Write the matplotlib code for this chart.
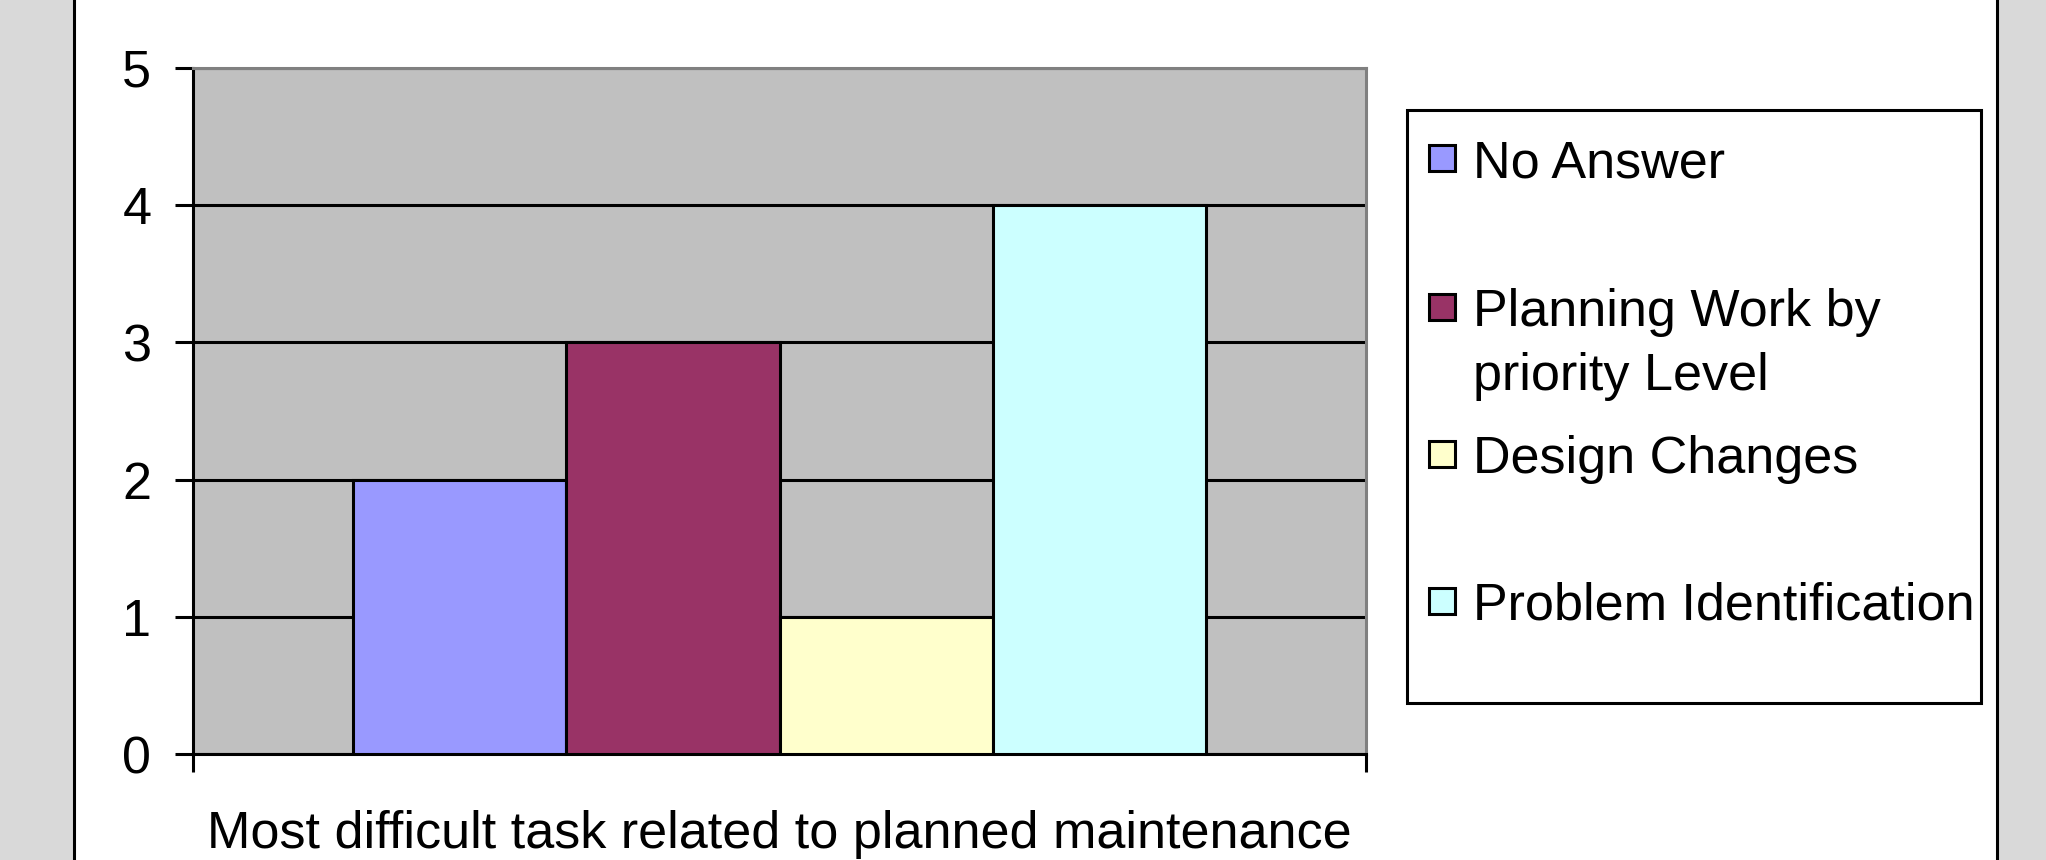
import matplotlib
matplotlib.use("Agg")
import matplotlib.pyplot as plt
from matplotlib.patches import Rectangle
from matplotlib.lines import Line2D

# data
categories = ['No Answer', 'Planning Work by\npriority Level', 'Design Changes', 'Problem Identification']
values = [2, 3, 1, 4]
colors = ['#9999ff', '#993366', '#ffffcc', '#ccffff']
yticks = [0, 1, 2, 3, 4, 5]
xlabel = 'Most difficult task related to planned maintenance'

FONT = ['Liberation Sans', 'DejaVu Sans']
FS = 37.5

W, H = 2046, 860
fig = plt.figure(figsize=(W / 100, H / 100), dpi=100)
fig.patch.set_facecolor('white')

def fx(px):
    return px / W

def fy(py):
    return 1 - py / H

# grey side bands with black frame lines
fig.patches.append(Rectangle((0, 0), fx(72), 1, transform=fig.transFigure, color='#d9d9d9', zorder=0))
fig.patches.append(Rectangle((fx(1998), 0), 1 - fx(1998), 1, transform=fig.transFigure, color='#d9d9d9', zorder=0))
fig.lines.append(Line2D([fx(73.5), fx(73.5)], [0, 1], transform=fig.transFigure, color='black', lw=2.2))
fig.lines.append(Line2D([fx(1996.5), fx(1996.5)], [0, 1], transform=fig.transFigure, color='black', lw=2.2))

# plot area
ax = fig.add_axes([fx(193), fy(754), fx(1366) - fx(193), fy(68) - fy(754)])
ax.set_facecolor('#c0c0c0')

n = len(values)
w = 1 / 5.5
for i, (v, c) in enumerate(zip(values, colors)):
    ax.bar(0.5 + (i - (n - 1) / 2) * w, v, width=w, color=c, edgecolor='black', linewidth=2.2, zorder=3)

ax.set_xlim(0, 1)
ax.set_ylim(0, 5)
ax.set_yticks(yticks)
ax.set_yticklabels([str(t) for t in yticks], fontsize=FS, family=FONT)
ax.set_xticks([0, 1])
ax.set_xticklabels(['', ''])
ax.yaxis.grid(True, color='black', linewidth=2.2, zorder=1)
ax.set_axisbelow(True)
ax.tick_params(axis='y', length=13, width=2.2, direction='out', pad=17)
ax.tick_params(axis='x', length=13, width=2.2, direction='out')

for side in ['left', 'bottom']:
    ax.spines[side].set_linewidth(2.2)
    ax.spines[side].set_color('black')
for side in ['top', 'right']:
    ax.spines[side].set_linewidth(2.2)
    ax.spines[side].set_color('#808080')

fig.text(fx(779), fy(848), xlabel, ha='center', va='baseline', fontsize=FS, family=FONT)

# legend drawn by hand to follow the uneven spacing of the original
fig.patches.append(Rectangle((fx(1407), fy(703)), fx(1981) - fx(1407), fy(110) - fy(703),
                             transform=fig.transFigure, facecolor='white', edgecolor='black', lw=2.2, zorder=2))
entry_y = [158, 307, 454, 601]
for lab, c, y in zip(categories, colors, entry_y):
    fig.patches.append(Rectangle((fx(1429), fy(y + 13)), fx(26), 26 / H, transform=fig.transFigure,
                                 facecolor=c, edgecolor='black', lw=2.2, zorder=3))
    for k, line in enumerate(lab.split('\n')):
        fig.text(fx(1473), fy(y + k * 64), line, ha='left', va='center_baseline', fontsize=FS, family=FONT, zorder=4)

fig.savefig('out.png', dpi=100)
